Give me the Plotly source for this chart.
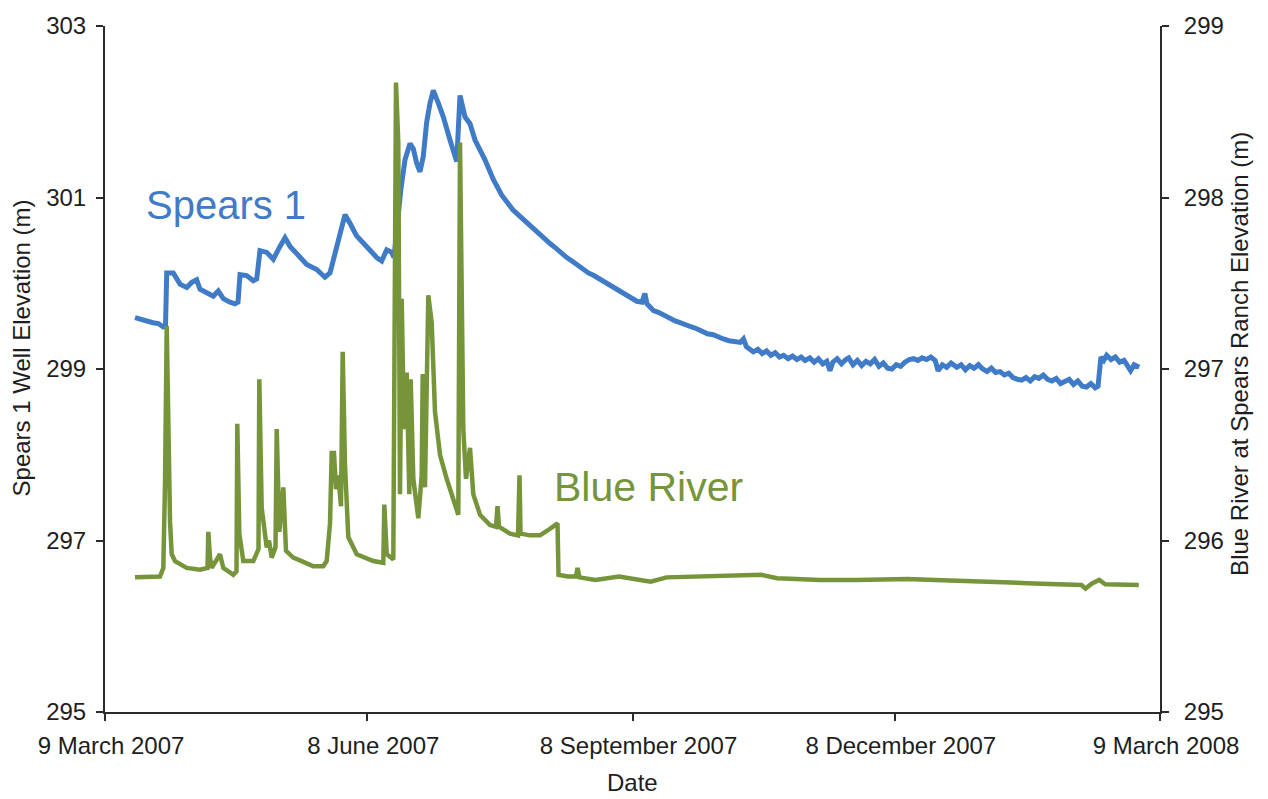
import pandas as pd
import plotly.graph_objects as go

# Record start; all series times are stored as days elapsed since this date
START = pd.Timestamp("2007-03-09")

# Spears 1 well elevation (m), left axis
spears_day = [
    10.41, 12.14, 14.47, 16.65, 18.5, 20.23, 20.99, 21.41, 23.69, 26.02, 28.34,
    30.08, 31.81, 32.96, 35.28, 37.57, 39.31, 41.04, 43.37, 45.10, 46.14,
    46.83, 49.16, 51.45, 52.63, 53.77, 56.10, 58.39, 60.71, 62.45, 64.18,
    66.50, 69.97, 73.44, 76.32, 78.06, 79.79, 81.53, 83.26, 85.00, 87.32,
    89.61, 91.93, 94.26, 95.99, 97.73, 99.46, 100.26, 102.69, 104.08, 105.81,
    106.96, 108.13, 109.28, 110.42, 111.60, 112.75, 113.89, 115.63, 117.36, 119.69,
    122.01, 123.16, 124.89, 126.63, 128.36, 131.83, 134.71, 137.6, 139.5, 141.4,
    143.3, 145.2, 147.0, 148.9, 150.8, 152.6, 154.5, 156.4, 158.3, 160.2,
    162.0, 164.0, 165.8, 167.7, 169.6, 171.5, 173.3, 175.2, 177.1, 179.0,
    180.9, 182.8, 184.5, 186.3, 187.3, 188.0, 190.3, 192.0, 194.0, 196.0,
    197.8, 199.5, 201.5, 203.5, 205.3, 207.0, 209.0, 211.0, 212.8, 214.5,
    216.5, 218.5, 220.4, 221.5, 222.5, 224.9, 226.5, 228.0, 229.5, 231.0,
    232.5, 234.0, 235.4, 237.0, 238.5, 240.0, 241.5, 242.9, 244.5, 246.0,
    247.5, 249.0, 250.4, 251.5, 252.5, 254.0, 255.5, 257.0, 258.0, 259.5,
    261.0, 262.5, 264.0, 265.5, 267.0, 268.5, 270.0, 271.5, 273.0, 274.5,
    276.0, 277.5, 279.0, 280.5, 282.0, 283.5, 285.0, 286.5, 288.0, 289.0,
    290.5, 292.0, 293.5, 295.5, 297.0, 298.5, 300.0, 301.5, 303.0, 304.5,
    306.0, 307.5, 309.0, 310.5, 312.0, 313.5, 315.0, 316.5, 318.0, 319.5,
    321.0, 322.5, 324.0, 325.5, 327.0, 328.5, 330.0, 331.5, 333.0, 334.5,
    336.0, 337.5, 339.0, 340.5, 342.0, 343.5, 344.5, 345.5, 346.5, 347.5,
    349.0, 350.5, 352.0, 353.5, 354.5, 355.8, 357.0, 358.8,
]
spears_elev = [
    299.60, 299.58, 299.56, 299.54, 299.53, 299.49, 299.50, 300.12, 300.12, 299.99, 299.95,
    300.01, 300.04, 299.93, 299.89, 299.85, 299.91, 299.82, 299.78, 299.76, 299.78,
    300.10, 300.09, 300.03, 300.05, 300.38, 300.36, 300.28, 300.43, 300.53, 300.43,
    300.34, 300.22, 300.16, 300.07, 300.12, 300.36, 300.55, 300.80, 300.70, 300.55,
    300.47, 300.38, 300.30, 300.26, 300.39, 300.36, 300.30, 301.11, 301.44, 301.63,
    301.57, 301.40, 301.30, 301.48, 301.88, 302.10, 302.25, 302.10, 301.94, 301.67,
    301.42, 302.19, 301.94, 301.86, 301.67, 301.44, 301.21, 301.03, 300.94, 300.86,
    300.80, 300.74, 300.68, 300.63, 300.57, 300.51, 300.46, 300.41, 300.35, 300.30,
    300.26, 300.21, 300.17, 300.12, 300.09, 300.05, 300.01, 299.97, 299.93, 299.89,
    299.85, 299.81, 299.79, 299.78, 299.88, 299.76, 299.68, 299.66, 299.62, 299.59,
    299.56, 299.54, 299.51, 299.49, 299.47, 299.44, 299.41, 299.40, 299.37, 299.35,
    299.33, 299.32, 299.31, 299.35, 299.26, 299.20, 299.23, 299.18, 299.21, 299.16,
    299.19, 299.14, 299.16, 299.12, 299.15, 299.11, 299.14, 299.10, 299.13, 299.08,
    299.12, 299.06, 299.09, 298.98, 299.08, 299.12, 299.06, 299.11, 299.13, 299.05,
    299.10, 299.04, 299.09, 299.06, 299.11, 299.03, 299.07, 299.01, 299.00, 299.05,
    299.03, 299.08, 299.11, 299.12, 299.10, 299.13, 299.11, 299.14, 299.10, 298.98,
    299.05, 299.02, 299.07, 299.02, 299.05, 298.99, 299.04, 299.01, 299.05, 299.00,
    298.97, 299.01, 298.96, 298.97, 298.93, 298.95, 298.90, 298.88, 298.87, 298.90,
    298.86, 298.91, 298.89, 298.93, 298.88, 298.86, 298.89, 298.83, 298.85, 298.88,
    298.82, 298.86, 298.80, 298.79, 298.83, 298.78, 298.80, 299.14, 299.10, 299.16,
    299.11, 299.14, 299.08, 299.10, 299.05, 298.98, 299.05, 299.02,
]

# Blue River at Spears Ranch elevation (m), right axis
river_day = [
    10.41, 14.47, 19.08, 20.23, 20.82, 21.41, 21.86, 22.56, 23.14, 24.28,
    28.34, 32.96, 35.56, 35.84, 36.43, 37.02, 39.90, 41.04, 44.51, 45.62,
    45.90, 46.59, 47.98, 51.45, 53.25, 53.53, 54.36, 55.51, 56.10, 56.90,
    57.83, 59.15, 59.57, 60.47, 61.86, 62.79, 65.32, 68.24, 72.26, 75.73,
    76.91, 78.06, 78.65, 79.44, 80.14, 80.94, 81.87, 82.46, 83.26, 84.41,
    87.32, 93.08, 96.55, 96.90, 97.73, 100.02, 100.95, 101.75, 102.34, 102.93,
    103.73, 104.67, 105.57, 106.05, 106.96, 108.69, 109.87, 110.22, 111.01, 112.16,
    113.34, 114.48, 116.22, 118.54, 120.83, 122.57, 123.16, 124.30, 125.24, 126.63,
    127.77, 130.10, 133.56, 135.65, 136.17, 136.69, 140.50, 143.28, 143.80, 144.15,
    147.44, 150.91, 153.69, 156.46, 156.98, 157.33, 160.52, 163.40, 163.92, 164.61,
    170.09, 178.32, 189.31, 194.79, 205.76, 219.46, 227.68, 233.20, 248.26, 260.60,
    278.44, 288.05, 301.75, 322.29, 338.77, 340.15, 342.41, 344.94, 346.98, 358.64,
]
river_elev = [
    295.785, 295.79, 295.79, 295.84, 296.33, 297.25, 296.60, 296.11, 295.92, 295.88,
    295.84, 295.83, 295.84, 296.05, 295.90, 295.84, 295.92, 295.84, 295.80, 295.82,
    296.68, 296.04, 295.88, 295.88, 295.95, 296.94, 296.19, 296.02, 295.96, 296.00,
    295.90, 295.96, 296.65, 296.05, 296.31, 295.94, 295.90, 295.88, 295.85, 295.85,
    295.88, 296.10, 296.51, 296.51, 296.30, 296.38, 296.20, 297.10, 296.44, 296.02,
    295.92, 295.88, 295.87, 296.21, 295.92, 295.89, 298.67, 298.32, 296.27, 297.41,
    296.65, 296.98, 296.27, 296.94, 296.36, 296.13, 296.38, 296.97, 296.31, 297.43,
    297.27, 296.75, 296.50, 296.36, 296.23, 296.15, 298.32, 296.65, 296.36, 296.54,
    296.27, 296.15, 296.09, 296.08, 296.20, 296.08, 296.04, 296.03, 296.38, 296.04,
    296.03, 296.03, 296.06, 296.10, 296.10, 295.80, 295.79, 295.79, 295.84, 295.785,
    295.77, 295.79, 295.76, 295.785, 295.79, 295.80, 295.80, 295.78, 295.77, 295.77,
    295.775, 295.77, 295.76, 295.75, 295.74, 295.72, 295.75, 295.77, 295.745, 295.74,
]

# Axis ticks
x_tick_dates = ["2007-03-09", "2007-06-08", "2007-09-08", "2007-12-08", "2008-03-09"]
x_tick_text = ["9 March 2007", "8 June 2007", "8 September 2007", "8 December 2007", "9 March 2008"]
left_ticks = [295, 297, 299, 301, 303]
right_ticks = [295, 296, 297, 298, 299]

BLUE = "#3f7bc6"
GREEN = "#76953a"
AXIS = "#2b2b2b"
TEXT = "#1e1e1e"
FONT = "Liberation Sans, Arial, sans-serif"


def to_dates(days):
    return START + pd.to_timedelta(pd.Series(days, dtype=float), unit="D")


fig = go.Figure()
fig.add_trace(go.Scatter(
    x=to_dates(spears_day), y=spears_elev, mode="lines", name="Spears 1",
    line=dict(color=BLUE, width=5), yaxis="y",
))
fig.add_trace(go.Scatter(
    x=to_dates(river_day), y=river_elev, mode="lines", name="Blue River",
    line=dict(color=GREEN, width=4.5), yaxis="y2",
))

axis_common = dict(
    showgrid=False, zeroline=False, showline=True, linecolor=AXIS, linewidth=2,
    ticks="outside", ticklen=7, tickwidth=2, tickcolor=AXIS,
    tickfont=dict(family=FONT, size=24, color=TEXT),
)


def label(text, x, y, size, color=TEXT, angle=0):
    return dict(text=text, xref="paper", yref="paper", x=x, y=y,
                xanchor="center", yanchor="middle", textangle=angle,
                showarrow=False, font=dict(family=FONT, size=size, color=color))


fig.update_layout(
    width=1268, height=799,
    margin=dict(l=105, r=108, t=22, b=87),
    paper_bgcolor="white", plot_bgcolor="white",
    showlegend=False,
    font=dict(family=FONT, color=TEXT),
    xaxis=dict(
        type="date", range=[x_tick_dates[0], x_tick_dates[-1]],
        tickmode="array", tickvals=x_tick_dates, ticktext=x_tick_text,
        ticklabelshift=6, ticklabelstandoff=4,
        **axis_common,
    ),
    yaxis=dict(
        range=[295, 303], tickmode="array", tickvals=left_ticks,
        ticklabelstandoff=5,
        **axis_common,
    ),
    yaxis2=dict(
        range=[295, 299], tickmode="array", tickvals=right_ticks,
        overlaying="y", side="right", ticklabelstandoff=10,
        **axis_common,
    ),
    annotations=[
        label("Spears 1", 0.1147, 0.739, 40, BLUE),
        label("Blue River", 0.5147, 0.328, 41, GREEN),
        label("Spears 1 Well Elevation (m)", -0.0796, 0.53, 24, angle=-90),
        label("Blue River at Spears Ranch Elevation (m)", 1.0758, 0.522, 24, angle=-90),
        label("Date", 0.5, -0.1029, 24),
    ],
)

fig.write_html("out.html")
